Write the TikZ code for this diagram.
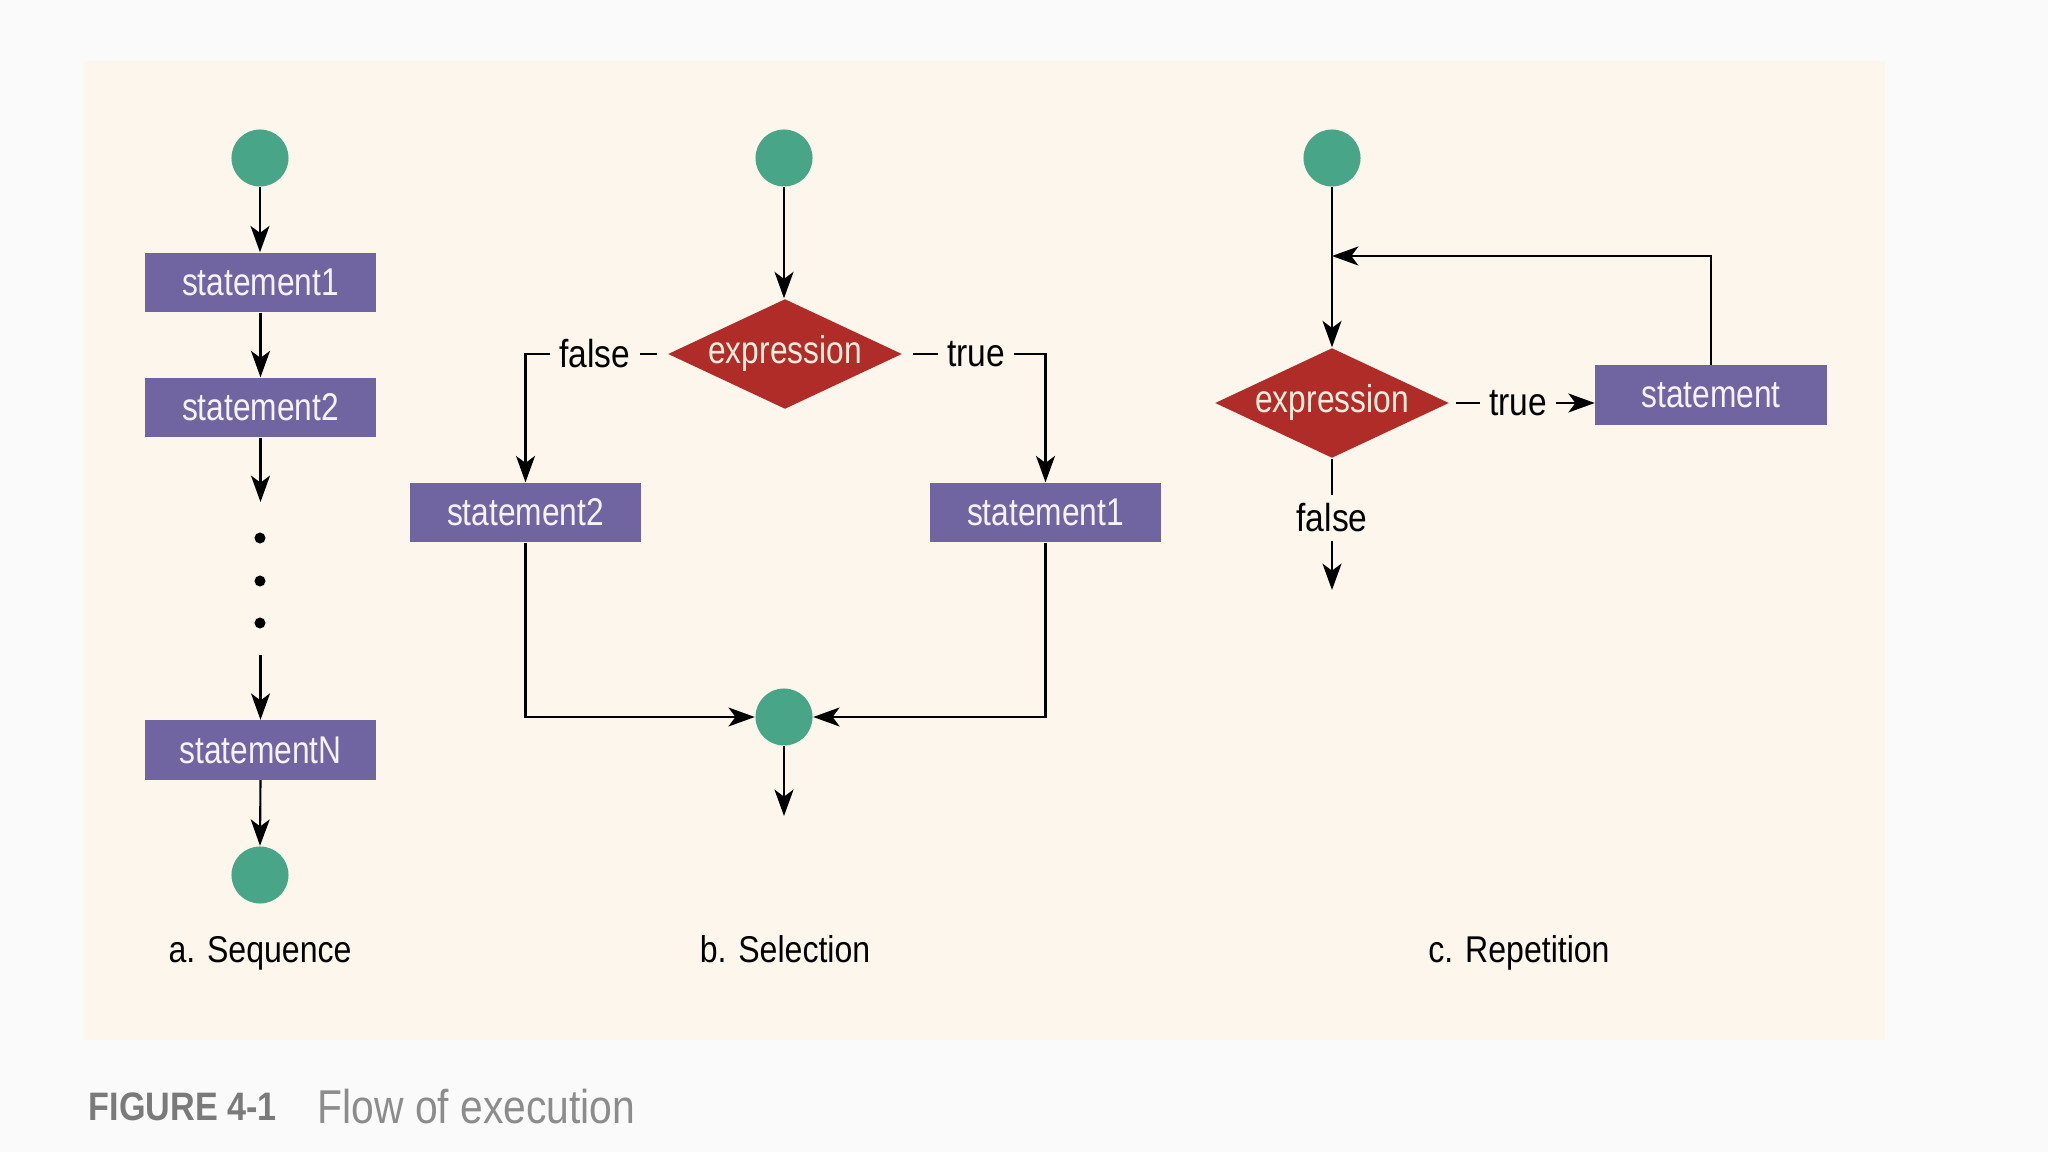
\documentclass[tikz,border=0pt]{standalone}
\usepackage{fontspec}
\usetikzlibrary{arrows.meta,shapes.geometric}
\newfontfamily\cf[FakeStretch=0.86]{Liberation Sans}
\newfontfamily\cfn[FakeStretch=0.82]{Liberation Sans}
\definecolor{outerbg}{HTML}{FAFAFA}
\definecolor{panel}{HTML}{FCF6EC}
\definecolor{boxpurple}{HTML}{7065A0}
\definecolor{diared}{HTML}{B02C28}
\definecolor{dotgreen}{HTML}{48A587}
\definecolor{boxtext}{HTML}{F6F2FF}
\definecolor{diatext}{HTML}{FCEEDD}
\definecolor{capdark}{HTML}{7A7A7A}
\definecolor{caplight}{HTML}{8C8C8C}
\tikzset{
  x=0.01cm, y=-0.01cm,
  stbox/.style={rectangle, fill=boxpurple, minimum width=2.31cm, minimum height=0.59cm, inner sep=0pt,
    text=boxtext, font=\cfn\fontsize{11}{12}\selectfont},
  decide/.style={diamond, aspect=2.13, fill=diared, minimum width=2.34cm, minimum height=1.10cm, inner sep=0pt,
    text=diatext, font=\cfn\fontsize{11}{12}\selectfont},
  term/.style={circle, fill=dotgreen, minimum size=0.57cm, inner sep=0pt},
  lbl/.style={text=black, font=\cf\fontsize{11.1}{12}\selectfont, inner sep=2.4pt},
  sublabel/.style={text=black, font=\cf\fontsize{10.6}{12}\selectfont, inner sep=0pt, anchor=base},
  seqdot/.style={circle, fill=black, minimum size=0.11cm, inner sep=0pt},
  conn/.style={line width=0.6pt, black},
  arr/.style={conn, -{Stealth[length=7.5pt,width=5.4pt,inset=2pt]}}
}
\begin{document}
\begin{tikzpicture}
\fill[outerbg] (0,0) rectangle (2048,1152);
\useasboundingbox (0,0) rectangle (2048,1152);
\fill[panel] (84,61) rectangle (1885,1040);

% ---------- a. Sequence ----------
\node[term] (sa) at (260,158) {};
\node[stbox] (a1) at (260.5,282.5) {statement1};
\node[stbox] (a2) at (260.5,407.5) {statement2};
\coordinate (a2e) at (260.5,502);
\node[seqdot] (d1) at (260,538) {};
\node[seqdot] (d2) at (260,581) {};
\node[seqdot] (d3) at (260,623) {};
\coordinate (a3s) at (260.5,655);
\node[stbox] (aN) at (260.5,750) {statementN};
\node[term] (ea) at (260,875) {};
\node[sublabel] (la) at (260,962) {a. Sequence};
\draw[arr] (sa.south) -- (sa.south |- a1.north);
\draw[arr] (a1.south) -- (a2.north);
\draw[arr] (a2.south) -- (a2e);
\draw[arr] (a3s) -- (aN.north);
\draw[arr] (aN.south) -- (ea.north);

% ---------- b. Selection ----------
\node[term] (sb) at (784,158) {};
\node[decide] (db) at (785,354) {expression};
\node[lbl] (fb) at (595,354) {false};
\node[lbl] (tb) at (976,354) {true};
\node[stbox] (b2) at (525.5,512.5) {statement2};
\node[stbox] (b1) at (1045.5,512.5) {statement1};
\node[term] (mb) at (784,717) {};
\coordinate (bx) at (784,816);
\node[sublabel] (lb) at (785,962) {b. Selection};
\draw[arr] (sb.south) -- (sb.south |- db.north);
\draw[conn, shorten <=5\pgflinewidth] (db.west) -- (fb.east);
\draw[arr] (fb.west) -| (b2.north);
\draw[conn, shorten <=5\pgflinewidth] (db.east) -- (tb.west);
\draw[arr] (tb.east) -| (b1.north);
\draw[arr] (b2.south) |- (mb.west);
\draw[arr] (b1.south) |- (mb.east);
\draw[arr] (mb.south) -- (bx);

% ---------- c. Repetition ----------
\node[term] (sc) at (1332,158) {};
\coordinate (cj) at (1332,256);
\node[decide] (dc) at (1332,403) {expression};
\node[lbl] (tc) at (1518,403) {true};
\node[stbox] (cs) at (1711,395) {statement};
\node[lbl] (fc) at (1332,518) {false};
\coordinate (cx) at (1332,590);
\node[sublabel] (lc) at (1519,962) {c. Repetition};
\draw[arr] (sc.south) -- (dc.north);
\draw[arr] (cs.north) |- (cj);
\draw[conn, shorten <=3\pgflinewidth] (dc.east) -- (tc.west);
\draw[arr] (tc.east) -- (tc.east -| cs.west);
\draw[conn] (dc.south) -- (fc.north);
\draw[arr] (fc.south) -- (cx);

% ---------- caption ----------
\node[anchor=west, inner sep=0pt, text=capdark, font=\cf\bfseries\fontsize{11.3}{13}\selectfont] (fig) at (88,1107) {FIGURE 4-1};
\node[anchor=west, inner sep=0pt, text=caplight, font=\cf\fontsize{13.5}{15}\selectfont] (ttl) at (317,1107) {Flow of execution};
\end{tikzpicture}
\end{document}
